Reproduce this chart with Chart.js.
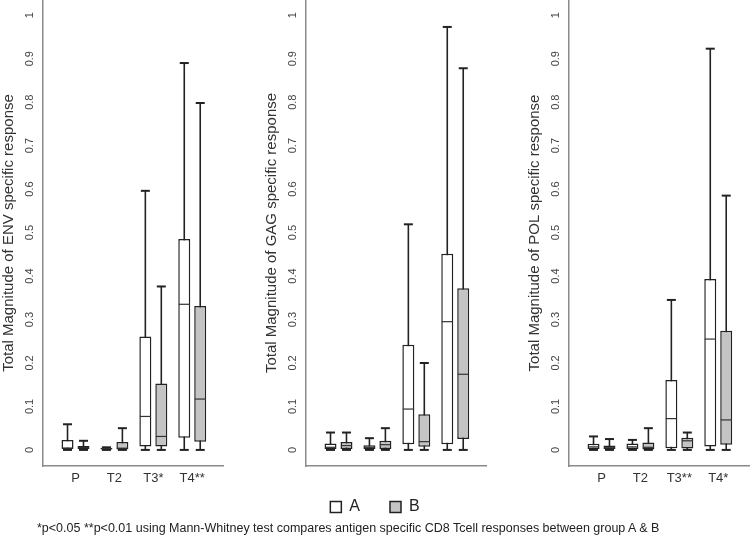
<!DOCTYPE html>
<html>
<head>
<meta charset="utf-8">
<script src="https://cdn.jsdelivr.net/npm/chart.js@4.4.1/dist/chart.umd.min.js"></script>
<style>
  body { margin: 0; background: #fff; width: 750px; height: 539px; overflow: hidden; position: relative; font-family: "Liberation Sans", Arial, sans-serif; }
  canvas { position: absolute; top: 0; }
  #note { position: absolute; left: 37px; top: 521px; font-size: 12.5px; color: #222; white-space: nowrap; }
</style>
</head>
<body>
<canvas id="env" width="224" height="500" style="left:0px"></canvas>
<canvas id="gag" width="224" height="525" style="left:263px"></canvas>
<canvas id="pol" width="224" height="500" style="left:526px"></canvas>
<div id="note">*p&lt;0.05 **p&lt;0.01 using Mann-Whitney test compares antigen specific CD8 Tcell responses between group A &amp; B</div>
<script>
// y axis tick values, same for the 3 panels
const yTicks = [0, 0.1, 0.2, 0.3, 0.4, 0.5, 0.6, 0.7, 0.8, 0.9, 1];

// x axis labels of each panel (the stars are the significance marks)
const envLabels = ['P', 'T2', 'T3*', 'T4**'];
const gagLabels = ['P', 'T2', 'T3*', 'T4**'];
const polLabels = ['P', 'T2', 'T3**', 'T4*'];

// box stats, one row per timepoint: [min, q1, median, q3, max]
const envA = [[0, 0.002, 0.004, 0.023, 0.059], [0, 0.001, 0.003, 0.005, 0.006], [0, 0.008, 0.077, 0.261, 0.596], [0, 0.028, 0.335, 0.485, 0.89]];
const envB = [[0, 0.002, 0.005, 0.009, 0.021], [0, 0.001, 0.004, 0.018, 0.05], [0, 0.008, 0.031, 0.153, 0.376], [0, 0.019, 0.117, 0.331, 0.798]];
const gagA = [[0, 0.002, 0.006, 0.015, 0.04], [0, 0.002, 0.006, 0.011, 0.027], [0, 0.013, 0.094, 0.242, 0.519], [0, 0.013, 0.295, 0.451, 0.973]];
const gagB = [[0, 0.002, 0.01, 0.018, 0.04], [0, 0.002, 0.012, 0.021, 0.05], [0, 0.007, 0.019, 0.082, 0.2], [0, 0.025, 0.174, 0.372, 0.878]];
const polA = [[0, 0.002, 0.007, 0.014, 0.031], [0, 0.002, 0.007, 0.015, 0.023], [0, 0.004, 0.072, 0.161, 0.345], [0, 0.008, 0.255, 0.393, 0.923]];
const polB = [[0, 0.002, 0.005, 0.01, 0.025], [0, 0.001, 0.006, 0.017, 0.05], [0, 0.003, 0.021, 0.028, 0.04], [0, 0.012, 0.069, 0.274, 0.585]];

const groupNames = ['A', 'B'];
const groupFill = ['#ffffff', '#c4c4c4'];

const family = '"Liberation Sans", Arial, sans-serif';
Chart.defaults.font.family = family;

// y tick labels in the picture are turned 90deg, chart.js wont do that on a y axis
// so they get drawn here from the scale
const yLabels = {
  id: 'yLabels',
  afterDraw(chart) {
    const ys = chart.scales.y;
    const ctx = chart.ctx;
    ctx.save();
    ctx.fillStyle = '#444';
    ctx.font = '11px ' + family;
    ctx.textAlign = 'center';
    ctx.textBaseline = 'middle';
    yTicks.forEach(v => {
      ctx.save();
      ctx.translate(ys.right - 13, ys.getPixelForValue(v));
      ctx.rotate(-Math.PI / 2);
      ctx.fillText(String(v), 0, 0);
      ctx.restore();
    });
    ctx.restore();
  }
};

function makePanel(id, title, labels, statsA, statsB, showLegend) {
  const off = 0.205; // how far A and B sit from the middle of the timepoint
  const datasets = [];

  [statsA, statsB].forEach((stats, g) => {
    const xs = stats.map((s, i) => i + 1 + (g === 0 ? -off : off));
    // whisker min..max, sits behind the box
    datasets.push({
      type: 'bar', label: '', order: 3, grouped: false,
      data: stats.map((s, i) => ({ x: xs[i], y: [s[0], s[4]] })),
      backgroundColor: '#222', barThickness: 1.6, maxBarThickness: 1.6, barPercentage: 1, inflateAmount: 0
    });
    // the box q1..q3
    datasets.push({
      type: 'bar', label: groupNames[g], order: 2, grouped: false,
      data: stats.map((s, i) => ({ x: xs[i], y: [s[1], s[3]] })),
      backgroundColor: groupFill[g], borderColor: '#222', borderWidth: 1.5, borderSkipped: false,
      barThickness: 12, maxBarThickness: 12, barPercentage: 1, inflateAmount: 0
    });
    // end caps of the whiskers
    datasets.push({
      type: 'scatter', label: '', order: 1,
      data: stats.flatMap((s, i) => [{ x: xs[i], y: s[0] }, { x: xs[i], y: s[4] }]),
      pointStyle: 'line', pointRadius: 4.5, pointBorderWidth: 2, pointBorderColor: '#222', borderColor: '#222'
    });
    // median
    datasets.push({
      type: 'scatter', label: '', order: 0,
      data: stats.map((s, i) => ({ x: xs[i], y: s[2] })),
      pointStyle: 'line', pointRadius: 5.5, pointBorderWidth: 1.2, pointBorderColor: '#333', borderColor: '#333'
    });
  });

  new Chart(document.getElementById(id), {
    type: 'bar',
    data: { datasets: datasets },
    options: {
      responsive: false,
      animation: false,
      events: [],
      layout: { padding: 0, autoPadding: false },
      plugins: {
        tooltip: { enabled: false },
        legend: {
          display: showLegend,
          position: 'bottom',
          labels: {
            filter: item => groupNames.includes(item.text),
            boxWidth: 11, boxHeight: 11, padding: 30,
            color: '#222', font: { size: 16 }
          }
        }
      },
      scales: {
        x: {
          type: 'linear', min: 0.165, max: 4.816, offset: false,
          grid: { display: false, drawTicks: false, offset: false },
          border: { display: true, color: '#8a8a8a', width: 1.5 },
          afterBuildTicks: s => { s.ticks = labels.map((l, i) => ({ value: i + 1 })); },
          afterFit: s => { s.height = showLegend ? 3 : 34; },
          ticks: {
            autoSkip: false, maxRotation: 0, padding: 5,
            color: '#333', font: { size: 13 },
            callback: (v, i) => labels[i]
          }
        },
        y: {
          min: -0.037, max: 1.035,
          grid: { display: false, drawTicks: false },
          border: { display: true, color: '#8a8a8a', width: 1.5 },
          ticks: { display: false },
          afterFit: s => { s.width = 43; },
          title: { display: true, text: title, color: '#333', font: { size: 15 }, padding: 0 }
        }
      }
    },
    plugins: [yLabels]
  });
}

makePanel('env', 'Total Magnitude of ENV specific response', envLabels, envA, envB, false);
makePanel('gag', 'Total Magnitude of GAG specific response', gagLabels, gagA, gagB, true);
makePanel('pol', 'Total Magnitude of POL specific response', polLabels, polA, polB, false);
</script>
</body>
</html>
